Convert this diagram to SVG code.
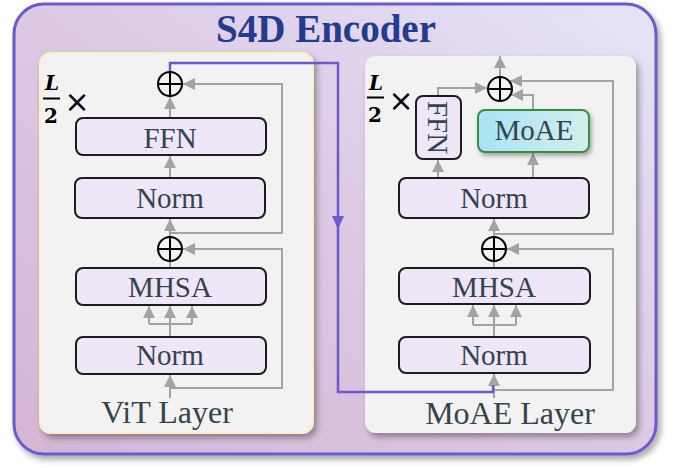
<svg xmlns="http://www.w3.org/2000/svg" width="676" height="468" viewBox="0 0 676 468">
  <defs>
    <linearGradient id="outerFill" x1="0" y1="1" x2="1" y2="0">
      <stop offset="0" stop-color="#d5b6d4"/>
      <stop offset="0.5" stop-color="#dcc8e3"/>
      <stop offset="1" stop-color="#e6e4f8"/>
    </linearGradient>
    <linearGradient id="moaeFill" x1="0" y1="0" x2="1" y2="0">
      <stop offset="0" stop-color="#a9e3f5"/>
      <stop offset="1" stop-color="#d2eeee"/>
    </linearGradient>
    <filter id="shadow" x="-10%" y="-10%" width="130%" height="130%">
      <feDropShadow dx="3" dy="4" stdDeviation="3" flood-color="#000" flood-opacity="0.35"/>
    </filter>
    <filter id="shadowSmall" x="-20%" y="-20%" width="150%" height="160%">
      <feDropShadow dx="2" dy="3" stdDeviation="2" flood-color="#000" flood-opacity="0.3"/>
    </filter>
    <marker id="ga" markerUnits="userSpaceOnUse" markerWidth="12" markerHeight="12" viewBox="0 0 12 12" refX="12" refY="6" orient="auto">
      <path d="M0,0 L12,6 L0,12 z" fill="#a3a3a3"/>
    </marker>
  </defs>
  <style>
    .box { fill: #efe6f7; stroke: #1c1c1c; stroke-width: 2; }
    .lbl { font-family: "Liberation Serif", "Times New Roman", serif; font-size: 29px; fill: #34444b; text-anchor: middle; }
    .layer { font-family: "Liberation Serif", "Times New Roman", serif; font-size: 32px; fill: #34444b; text-anchor: middle; }
    .frac { font-family: "DejaVu Serif", "Liberation Serif", serif; font-size: 20px; font-weight: bold; fill: #000; text-anchor: middle; }
    .times { font-family: "DejaVu Sans", sans-serif; font-size: 30px; fill: #000; text-anchor: middle; }
    .g { fill: none; stroke: #a3a3a3; stroke-width: 2; }
    .ga { fill: none; stroke: #a3a3a3; stroke-width: 2; marker-end: url(#ga); }
    .plus { fill: none; stroke: #000; stroke-width: 2; }
    .purple { fill: none; stroke: #6a5acd; stroke-width: 2.5; }
  </style>

  <!-- outer encoder box -->
  <g id="encoder">
    <rect x="14" y="4" width="642" height="450" rx="30" fill="url(#outerFill)" stroke="#6a5acd" stroke-width="3" filter="url(#shadow)"/>
    <text x="326" y="42" font-family="Liberation Serif, 'Times New Roman', serif" font-size="39" font-weight="bold" fill="#233c8e" text-anchor="middle">S4D Encoder</text>
  </g>

  <!-- panels -->
  <g id="vit-layer">
    <rect x="40" y="53" width="273" height="380" rx="11" fill="#f2f2f2" stroke="#fcefc4" stroke-width="2" filter="url(#shadow)"/>
    <text class="layer" x="167" y="423">ViT Layer</text>
  </g>
  <g id="moae-layer">
    <rect x="365" y="56" width="271" height="377" rx="11" fill="#f2f2f2" filter="url(#shadow)"/>
    <text class="layer" x="510" y="424">MoAE Layer</text>
  </g>

  <!-- L/2 x labels -->
  <g id="vit-repeat">
    <text class="frac" x="52" y="90" font-style="italic">L</text>
    <line x1="43" y1="98.5" x2="60" y2="98.5" stroke="#000" stroke-width="2"/>
    <text class="frac" x="51" y="123">2</text>
    <text class="times" x="77" y="112">×</text>
  </g>
  <g id="moae-repeat">
    <text class="frac" x="376" y="90" font-style="italic">L</text>
    <line x1="367" y1="97.5" x2="384" y2="97.5" stroke="#000" stroke-width="2"/>
    <text class="frac" x="375" y="122">2</text>
    <text class="times" x="401" y="111">×</text>
  </g>

  <!-- connectors -->
  <g id="connectors">
    <!-- ViT -->
    <path class="ga" d="M170,398 V375"/>
    <path class="ga" d="M170,388 H282 V249 H183"/>
    <path class="g" d="M170,337 V324 M149,324 H192"/>
    <path class="ga" d="M149,324 V306"/>
    <path class="ga" d="M170,324 V306"/>
    <path class="ga" d="M192,324 V306"/>
    <path class="g" d="M170,268 V261"/>
    <path class="ga" d="M170,237 V219"/>
    <path class="ga" d="M170,233 H282 V84 H183"/>
    <path class="ga" d="M170,178 V156"/>
    <path class="ga" d="M170,118 V97"/>
    <!-- MoAE -->
    <path class="ga" d="M500,77 V56"/>
    <path class="ga" d="M438,96 V88 H487"/>
    <path class="ga" d="M533,110 V95 H511"/>
    <path class="ga" d="M494,234 H613 V81 H510"/>
    <path class="ga" d="M438,178 V160"/>
    <path class="ga" d="M533,178 V153"/>
    <path class="ga" d="M494,237 V219"/>
    <path class="ga" d="M494,390 H613 V249 H507"/>
    <path class="g" d="M494,268 V261"/>
    <path class="g" d="M494,337 V325 M473,325 H516"/>
    <path class="ga" d="M473,325 V305"/>
    <path class="ga" d="M494,325 V305"/>
    <path class="ga" d="M516,325 V305"/>
    <path class="ga" d="M494,398 V374"/>
    <!-- purple link between layers -->
    <path class="purple" d="M170,72 V63 H338 V392 H493 V385"/>
    <path d="M332,216 L344,216 L338,229 z" fill="#6a5acd"/>
  </g>

  <!-- ViT nodes -->
  <g id="vit-add-top">
    <circle cx="170" cy="84" r="12" class="plus"/>
    <path class="plus" d="M158,84 H182 M170,72 V96"/>
  </g>
  <g id="vit-ffn">
    <rect class="box" x="76" y="118" width="190" height="37" rx="7"/>
    <text class="lbl" x="170" y="148">FFN</text>
  </g>
  <g id="vit-norm1">
    <rect class="box" x="75" y="178" width="190" height="40" rx="7"/>
    <text class="lbl" x="170" y="208">Norm</text>
  </g>
  <g id="vit-add-mid">
    <circle cx="170" cy="249" r="12" class="plus"/>
    <path class="plus" d="M158,249 H182 M170,237 V261"/>
  </g>
  <g id="vit-mhsa">
    <rect class="box" x="76" y="268" width="190" height="37" rx="7"/>
    <text class="lbl" x="170" y="297">MHSA</text>
  </g>
  <g id="vit-norm2">
    <rect class="box" x="76" y="337" width="190" height="37" rx="7"/>
    <text class="lbl" x="170" y="365">Norm</text>
  </g>

  <!-- MoAE nodes -->
  <g id="moae-add-top">
    <circle cx="500" cy="89" r="12" class="plus"/>
    <path class="plus" d="M488,89 H512 M500,77 V101"/>
  </g>
  <g id="moae-ffn">
    <rect class="box" x="416" y="96" width="45" height="63" rx="7"/>
    <text class="lbl" transform="translate(438,127.5) rotate(90)" x="0" y="10">FFN</text>
  </g>
  <g id="moae-expert">
    <rect x="478" y="110" width="111" height="42" rx="7" fill="url(#moaeFill)" stroke="#3c8c3c" stroke-width="2" filter="url(#shadowSmall)"/>
    <text class="lbl" x="534" y="140">MoAE</text>
  </g>
  <g id="moae-norm1">
    <rect class="box" x="399" y="178" width="190" height="40" rx="7"/>
    <text class="lbl" x="494" y="208">Norm</text>
  </g>
  <g id="moae-add-mid">
    <circle cx="494" cy="249" r="12" class="plus"/>
    <path class="plus" d="M482,249 H506 M494,237 V261"/>
  </g>
  <g id="moae-mhsa">
    <rect class="box" x="399" y="268" width="191" height="36" rx="7"/>
    <text class="lbl" x="494" y="297">MHSA</text>
  </g>
  <g id="moae-norm2">
    <rect class="box" x="399" y="337" width="191" height="36" rx="7"/>
    <text class="lbl" x="494" y="365">Norm</text>
  </g>
</svg>
